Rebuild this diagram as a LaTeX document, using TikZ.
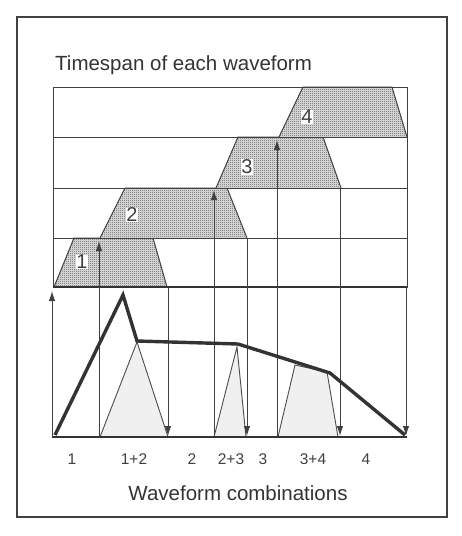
\documentclass[tikz,border=0pt]{standalone}
\usepackage{fontspec}
\setmainfont{Liberation Sans}
\usetikzlibrary{patterns,arrows.meta}
\pgfdeclarepatternformonly{finedash}{\pgfqpoint{0pt}{0pt}}{\pgfqpoint{2pt}{2.2pt}}{\pgfqpoint{2pt}{2.2pt}}{\pgfpathrectangle{\pgfqpoint{0pt}{0pt}}{\pgfqpoint{1.3pt}{0.8pt}}\pgfusepath{fill}}
\begin{document}
\begin{tikzpicture}[x=1pt,y=-1pt,
  thin line/.style={draw=black!75,line width=1pt},
  thick line/.style={draw=black!80,line width=1.5pt},
  wave/.style={draw=black!80,line width=3.4pt,line join=miter},
  trappat/.style={pattern=finedash,pattern color=black!60},
  tri/.style={draw=black!70,line width=0.9pt,fill=black!6},
  arr/.style={draw=black!75,line width=1pt,-{Latex[length=10pt,width=6.5pt]}},
  numlab/.style={font=\fontsize{20}{20}\selectfont,text=black!75,fill=white,inner sep=0.5pt},
  comblab/.style={font=\fontsize{15.5}{16}\selectfont,text=black!75,inner sep=0pt,anchor=base},
  titlelab/.style={font=\fontsize{20.5}{21}\selectfont,text=black!80,inner sep=0pt}]
\useasboundingbox (0,0) rectangle (461,536);
% outer frame
\draw[thin line,line width=1.1pt] (17,17) rectangle (447,517);
% title
\node[titlelab,anchor=west] (title) at (55,65) {Timespan of each waveform};
% trapezoids
\foreach \bl/\tl/\tr/\br/\yb/\yt in {54/74/153/167/287/238, 100/125/227/247/238/188, 216/238/323/341/188/137, 279/303/392/407/137/87}{
  \fill[black!18] (\bl,\yb) -- (\tl,\yt) -- (\tr,\yt) -- (\br,\yb) -- cycle;
  \fill[trappat] (\bl,\yb) -- (\tl,\yt) -- (\tr,\yt) -- (\br,\yb) -- cycle;
  \draw[thin line] (\bl,\yb) -- (\tl,\yt) -- (\tr,\yt) -- (\br,\yb);
}
% grid
\draw[thin line] (53,87) rectangle (407,287);
\foreach \y in {137,188,238} \draw[thin line] (53,\y) -- (407,\y);
\draw[thick line] (53,287) -- (407,287);
% light triangles
\filldraw[tri] (100,437) -- (137,342) -- (168,437);
\filldraw[tri] (214,437) -- (237,347) -- (246,437);
\filldraw[tri] (278,437) -- (295,365) -- (327,372) -- (338,437);
% verticals
\draw[arr] (52,437) -- (52,291);
\draw[arr] (99,437) -- (99,241);
\draw[arr] (168,287) -- (168,436);
\draw[arr] (214,437) -- (214,190);
\draw[arr] (247,238) -- (247,436);
\draw[arr] (277,437) -- (277,140);
\draw[arr] (340,188) -- (340,436);
\draw[arr] (406,287) -- (406,436);
% baseline
\draw[thick line] (52,437) -- (407,437);
% waveform
\draw[wave] (55,435) -- (123,295) -- (137,341) -- (238,344) -- (330,373) -- (405,435);
% trapezoid labels
\node[numlab] (n1) at (82,262) {1};
\node[numlab] (n2) at (132,215) {2};
\node[numlab] (n3) at (247,167) {3};
\node[numlab] (n4) at (307,117) {4};
% combination labels
\node[comblab] (c1) at (72,464) {1};
\node[comblab] (c12) at (134,464) {1+2};
\node[comblab] (c2) at (192,464) {2};
\node[comblab] (c23) at (231,464) {2+3};
\node[comblab] (c3) at (263,464) {3};
\node[comblab] (c34) at (313,464) {3+4};
\node[comblab] (c4) at (366,464) {4};
\node[titlelab] (xlab) at (238,493) {Waveform combinations};
\end{tikzpicture}
\end{document}
